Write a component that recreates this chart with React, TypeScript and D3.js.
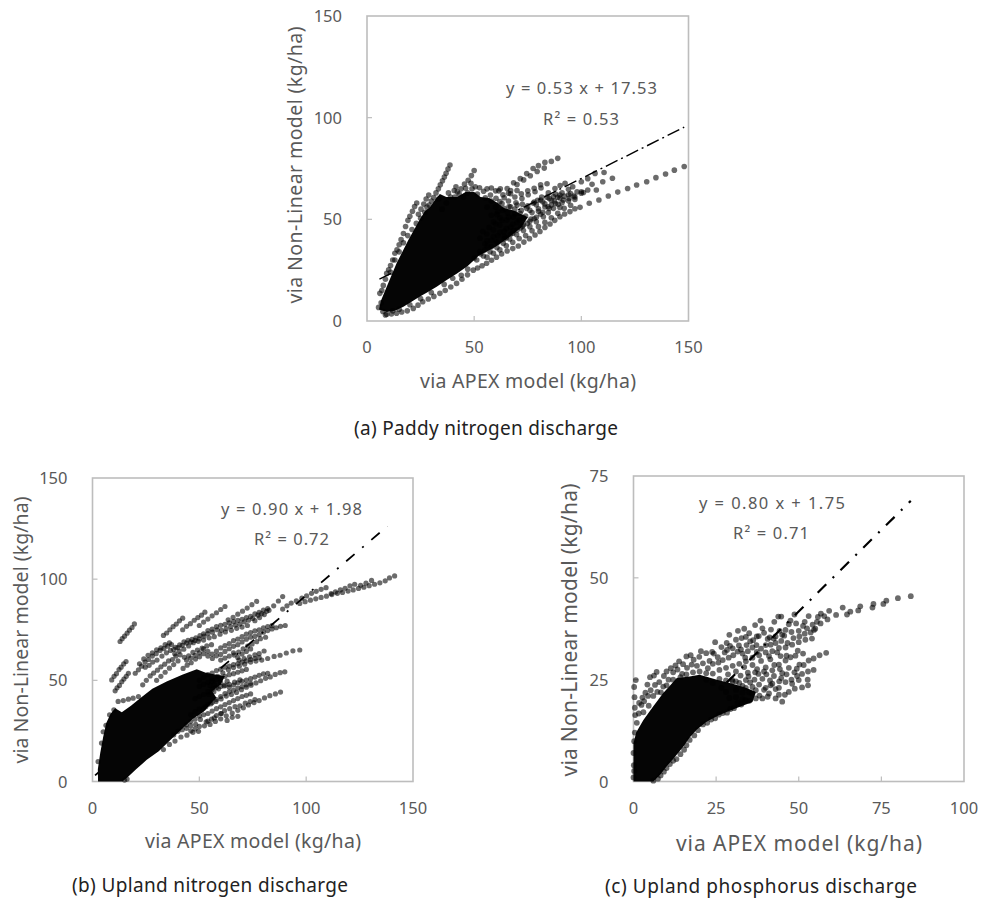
import React from "react";
import * as d3 from "d3";

type P = [number, number];

// ---------- Panel (a) paddy nitrogen: points ----------
const paddyCore: P[] = [[5.6, 5.6], [6.5, 10], [9.2, 16.9], [13.8, 28.4], [19.3, 39.8], [24.7, 50], [27, 54], [29.4, 56], [32, 60], [34, 62.5], [37, 61], [42, 61], [46, 63.5], [50, 63.5], [53, 61], [57, 60.5], [61, 58], [64, 55.5], [68, 54.5], [72, 52.5], [75, 51], [72, 46], [66, 41], [60, 36.5], [52, 32], [47, 27], [42, 23.4], [37, 20], [32.5, 16.9], [28, 14], [24.7, 12], [20, 9], [17, 7], [13, 5], [9.2, 4.4]];
const paddyPoints: P[] = [
  [148, 76], [143.4, 74.2], [139.3, 72.3], [134.8, 70.5], [130.5, 68.5], [125.8, 66.9], [121.6, 65.2], [117, 63.4], [112.6, 61.5], [108.2, 59.5], [103.7, 57.9], [99.4, 55.9], [97, 55.2], [94.7, 53.8], [92.2, 52.6], [90, 51.3], [87.6, 49.5], [85.4, 47.7], [83, 46], [80.7, 44], [78.4, 42.3], [75.8, 40.5], [73.2, 38.8], [70.6, 36.9], [68, 35.6], [65.4, 34.4], [62.8, 33], [60.4, 31.4], [58.1, 29.9], [55.8, 28.4], [53.7, 27.2], [51.6, 26.1], [49.6, 25], [46.9, 22.7], [44.3, 20.5], [41.8, 18.5], [39.1, 16.7], [36.5, 15], [34, 13.6], [31.2, 12.1], [28.6, 10.8], [26, 9.5], [23.8, 7.8], [21.6, 6.2], [18.8, 5], [16.2, 4.4], [13.8, 3.8], [11.4, 3.5], [9.2, 3.3],
  [114.5, 70.2], [110, 68.5], [105, 67.2], [100, 63.6], [97, 61], [94.3, 60.3], [91.6, 59.5], [89.2, 57.4], [87, 55.4], [84.6, 53.3], [82.3, 51.3], [79, 48.8], [76, 46.4], [73, 44.5], [69.8, 42.5], [66.6, 40.3], [63.6, 38.2], [60.6, 36.1], [57.4, 34], [54.3, 32], [51.2, 30],
  [110.6, 73], [106.4, 72.6], [103, 70], [100, 68.5], [107, 64.4], [103, 64.4], [100, 62.8], [96, 66], [94, 64.8], [90, 60.5], [86, 57], [83, 56.1], [80, 54], [76.5, 50.2], [72.5, 46.6], [68.4, 44.6], [64.2, 41.5], [60.3, 38.8], [56.1, 37], [52.6, 34.2],
  [92.4, 67.7], [90.1, 66.6], [87.7, 65.2], [84.6, 63], [81.5, 61], [79.6, 59.4], [77.6, 57.9], [74.5, 55.4], [71.4, 53], [68.3, 51.2], [65.2, 49.7], [62, 47.2], [59, 44.8], [55.9, 42.8], [52.7, 40.7],
  [96.5, 61.5], [94, 62.1], [91, 63], [88, 62.4], [85, 60.3], [82, 58.6], [79, 57.2], [76, 54.5], [73, 50.7], [70, 48.4], [67, 46.1], [64, 44], [61, 41.9], [58, 39.6], [55, 38], [90, 55.8], [87.4, 59], [84.5, 56.2], [81, 52.5], [78, 50.3], [74.8, 48], [71.7, 45.8], [68, 43.2], [65, 40.9],
  [89, 80], [86, 78.5], [83, 78], [80, 76.4], [77.5, 75], [74.5, 72.5], [71.5, 70], [68.4, 68], [65.4, 65.2], [61.5, 64], [82.7, 75.2], [79.4, 73.5], [76.2, 71.4], [73.1, 69.4], [70, 67.1], [67, 64.2], [84, 67.5], [81.2, 65.4], [78.4, 63.6], [75.2, 62.1], [72.3, 60.2], [69.5, 58.1], [66.3, 56.3], [63.3, 54.5], [60.6, 52.4], [72.5, 57.4], [69, 55], [65.6, 53.2], [62, 50.8], [59, 48.7],
  [62.2, 65], [60, 64], [58, 65.4], [56, 65], [54.4, 63.8], [52.5, 65.5], [66, 62.8], [63.4, 62.1], [60.2, 60.4], [57.6, 62], [55.2, 60.6],
  [50, 74], [48.7, 71.5], [47.2, 69.2], [45.5, 67.3], [43.9, 65], [42.1, 63.5], [40.7, 64.2], [38.7, 76.7], [37.8, 74.7], [36.9, 72.7], [36.1, 70.8], [35.2, 69], [34.2, 67], [33.3, 65], [32.2, 63], [31.1, 60.7], [28.8, 62], [27.6, 60], [26.5, 57.5], [25.2, 55], [24, 52.5], [23.2, 58], [22.2, 56.3], [21.2, 54], [20, 51.5], [19.1, 49.5], [18, 46.5], [17, 43], [15.9, 40], [15, 37.5], [14, 35], [13, 33.3], [12, 30], [11, 27.3], [10.1, 25.2], [9.2, 23.4], [8.6, 20.5], [7.6, 17.5], [6.9, 15], [6, 13.6], [5.4, 6.7], [7.4, 4.7], [8.6, 3], [6.6, 9],
  [55, 35], [58, 36.5], [61, 38.7], [64, 40.4], [67, 42.7], [70, 44.7], [73, 47.2], [76, 49], [79, 51], [82, 53.5], [85, 55.3], [88, 57.8], [91, 58.2], [94, 59.1], [97, 59.8],
  [56, 39.5], [59, 41.5], [62, 43.6], [65, 45.5], [68, 47.6], [71, 49.7], [74, 51.6], [77, 53.3], [80, 55.2], [83, 57.6], [86, 59.3], [89, 60.8], [92, 61.4], [95, 62.7], [98, 63.5], [101, 63.2],
  [54, 44], [57, 46], [60, 47.8], [63, 49.6], [66, 51], [69, 52.8], [72, 54.4], [75, 56.6], [78, 58.5], [81, 59.5], [84, 60.9], [87, 61.2], [90, 62],
  [50, 31], [53, 33], [56, 31.4], [59, 33.3], [62, 35], [65, 37], [68, 38.7], [71, 40.6], [74, 42], [77, 44.4], [80, 46.4], [83, 48.5], [86, 50.8], [89, 53], [92, 55.4], [95, 56.9],
  [60, 56], [63, 57.8], [66, 59], [69, 61], [72, 62.5], [75, 64], [78, 65.3], [81, 67], [62, 58.7], [56, 56], [58, 59], [64, 60.6], [67, 62.6], [70, 64.2], [58, 52], [61, 53.6], [64, 55.4], [67, 56.2], [70, 57],
  [35, 55], [37, 58], [39, 61], [41, 61], [43, 62.5], [45, 61], [47, 63], [49, 65], [50.5, 66], [29, 57], [30, 59], [27, 53.5], [28, 56], [25, 50.5], [23, 48], [21, 45], [19, 42], [17, 38.5], [15, 34], [13, 30], [11, 24], [47, 25.5], [44, 22.5], [40, 21], [36, 18], [30, 14], [25, 11], [20, 8], [15, 5.8], [12, 5], [33.5, 60], [38, 63], [41.5, 66], [46, 65.3], [48.5, 67.7], [51.5, 62.4]
];
const paddyFitX: P = [5.8, 148];
const paddyFitY: P = [20.6, 95.3];

// ---------- Panel (b) upland nitrogen ----------
const uplandNCore: P[] = [[2.6, 0], [2.5, 6], [3.6, 14], [5, 22], [6.4, 28.8], [8.4, 33.4], [10.6, 36.2], [13.7, 34.2], [18, 37.4], [22.3, 41.2], [28, 45.8], [34.7, 49.4], [42, 52.8], [48.8, 55.5], [53, 53.8], [58, 52.8], [62, 52.2], [60, 48], [56, 44.6], [58, 41.4], [55, 38], [52, 34.5], [47, 31], [44, 28], [37.9, 22], [31, 15], [25.4, 10.7], [20.4, 6], [16.8, 2.5], [14, 0]];
const uplandNPoints: P[] = [
  [12.9, 69.2], [13.9, 70.6], [15, 71.8], [16.2, 73.3], [17.3, 74.8], [18.5, 76.1], [19.6, 77.9],
  [9, 50.2], [10.1, 52], [11.2, 53.3], [12.4, 55.3], [13.4, 56.5], [14.6, 58.1], [15.7, 59.3],
  [10.6, 44.8], [11.5, 46.3], [12.6, 47.5], [13.7, 49.3], [14.7, 50.6], [15.8, 52], [16.8, 53.5],
  [33.2, 72.2], [34.7, 73.4], [36.2, 75], [37.7, 76.5], [39.2, 77.8], [40.7, 79.4], [42.2, 80.7],
  [42.2, 75], [44, 76.7], [45.8, 78], [47.6, 79.7], [49.3, 81], [51, 82.2], [52.6, 83.7],
  [50, 77.1], [52, 78.8], [54, 80.3], [56, 81.9], [58, 83.4], [60, 85], [62, 86.5],
  [63.5, 79.9], [65.8, 81.1], [68, 82.7], [70.2, 84.2], [72.4, 85.7], [74.6, 87.4], [76.8, 89],
  [76, 79.5], [78.2, 81], [80.4, 82.5], [82.6, 84.6], [84.8, 86.8], [87, 89.2], [89, 91.4],
  [20, 53.5], [21.5, 55.2], [23, 57], [24.6, 59], [26.2, 60.3], [28, 62], [29.8, 63.2], [31.6, 64.8], [33.4, 65.7], [35.2, 66.9], [37, 67.7], [38.9, 66.3], [40.8, 67.5], [42.8, 69], [44.7, 69.8], [46.6, 70.2], [48.4, 71], [50.3, 72.1], [52.2, 71.8], [54, 73.1], [56.2, 73.8], [58.4, 75], [60.4, 74.7], [62.6, 75.6], [64.7, 76.6], [66.9, 77.3], [69, 77.8], [71, 78.9], [73, 79.7], [75, 80.6], [77.4, 82.2], [79.2, 83], [81.5, 84.1],
  [24.7, 56.5], [26.5, 57.4], [28.2, 59], [30.2, 60], [32.5, 62], [34.6, 63.6], [36.5, 64.8], [38.5, 63.1], [40.5, 64.4], [42.7, 65.4], [45, 67], [47.2, 68.6], [49.5, 69.3], [52, 69.9], [54.6, 71], [57, 71.6], [59.7, 72.8], [62.2, 73.9], [65, 74.7], [67.5, 75.7], [70, 76.3], [72.5, 77.1],
  [23.5, 47.8], [25.2, 50], [27, 52.2], [28.6, 53.6], [30.4, 55], [32, 56.7], [33.8, 58], [35.6, 59.6], [37.4, 60.3], [39, 62], [41, 62.6], [43, 61.4], [45, 62.1], [47, 63.8], [49.1, 65], [51.3, 65.9], [53.5, 67], [55.7, 67.6], [42.4, 55.9], [44.3, 57.5], [46.2, 58.7], [48.2, 60.5], [50.1, 61.6], [52, 63.2], [54, 64.3],
  [56.1, 60.8], [58, 62.1], [60, 62.8], [62, 64.3], [64, 65.6], [66, 66.8], [68, 67.6], [70, 69], [72, 70.3], [74, 71.3], [76, 71.7], [78, 72.6], [80, 73.8], [82, 74.6], [84, 75.4], [86, 76], [88, 76.7], [90.2, 77.1], [66.3, 62.5], [68.4, 64], [70.5, 65.5], [72.6, 66.9], [74.7, 68], [76.8, 69.1], [78.6, 70.6], [81, 71.3],
  [97, 88], [99.5, 88.9], [102, 89.6], [104.5, 90.3], [107, 91], [109.5, 91.6], [112, 92.4], [114.6, 93], [117, 93.4], [119.6, 94.1], [122, 94.7], [124.5, 95.4], [127, 96], [129.5, 96.8], [132, 97.5], [134.5, 98.2], [137, 99.2], [139, 100.6], [141.4, 101.6],
  [89, 85.2], [91, 86.8], [93, 88.2], [95.4, 89.3], [98, 90.6], [100.2, 91.7], [102.5, 93], [104.7, 94], [107, 95], [109.3, 95.8], [111.7, 92.9], [113.7, 93.7], [116, 94.7], [118.2, 95.5], [120.5, 96.7], [122.7, 97.5], [125.5, 97], [128, 98], [130.6, 99.4],
  [97, 65], [93.8, 64.6], [90.7, 63.5], [87.8, 62.4], [85, 61.8], [82, 60.8], [79.2, 60], [76.5, 59.5], [74, 59], [71.2, 58], [68.7, 57], [66, 56.3], [63.6, 55.2], [61, 53.7], [58.6, 52], [56, 50.8], [80.3, 64.5], [78, 63.2], [76, 62.6], [73.5, 61.6], [71, 60.8], [68.6, 60],
  [90, 54.2], [87.8, 53.8], [85.5, 52.9], [83.2, 51.7], [81, 51], [78.7, 49.8], [76.5, 48.7], [74.2, 47.6], [72, 46.6], [69.7, 45.4], [67.4, 44], [65, 43], [62.6, 42.2], [60.2, 40.8], [57.8, 39.6], [55.4, 38.4], [53, 37], [69, 50.2], [66.5, 49.1], [64, 48], [61.6, 47.2], [59, 45.8], [56.8, 44.4], [54.5, 43],
  [88, 44.2], [85.6, 43.3], [83, 42.4], [80.5, 41.3], [78, 40], [75.6, 39], [73, 37.8], [70.6, 36.4], [68, 35.2], [65.4, 33.8], [62.6, 32.5], [60, 31], [57.5, 29.7], [55, 28.2], [52.4, 27.5], [49.6, 24.8], [47, 24.3], [44.2, 22.9], [41.4, 22], [38.6, 20], [36, 18.3], [33.2, 15.8],
  [68, 32.2], [65.4, 31.7], [63, 30.2], [60.3, 33.6], [58, 32.6], [55.7, 30.8], [53.2, 29.5], [50.5, 30.7], [48.3, 28.3], [46, 27.5], [76, 40.5], [73.8, 39.5], [71.5, 38.7], [69, 37.4], [66.7, 37], [64.2, 36], [61.8, 35],
  [12, 39.6], [14.4, 40], [16.8, 40.7], [19, 41.2], [21.5, 42], [10, 35.4], [8, 33], [6.3, 27.8], [5, 24.6], [4.2, 19], [2.6, 9.8], [15, 0.7], [16.2, 1.2],
  [50, 50], [52, 51.5], [54, 52.8], [56, 53.6], [58, 54.8], [60, 55.5], [62, 56.5], [64, 57], [66, 57.8], [68, 58.2], [70, 59], [72, 59.6], [74, 60.3], [76, 60.8], [78, 61.2],
  [50, 47], [52, 48], [54, 49], [56, 49.7], [58, 50.5], [60, 51.1], [62, 52], [64, 52.8], [66, 53.3], [68, 54], [70, 54.7], [72, 55.4], [55, 47.5], [57, 48], [60, 48.9], [63, 49.6],
  [48, 41], [50, 42], [52, 43], [54, 44.4], [56, 45.5], [58, 46.4], [60, 47], [62, 47.6], [64, 46.6], [66, 47.7], [68, 48.8], [70, 49.5], [72, 50.1], [74, 50.8], [76, 51.6], [78, 52.5], [80, 53.2], [82, 53.4],
  [46, 33], [48, 34.5], [50, 35.8], [52, 36.2], [54, 38], [56, 39], [58, 40.5], [60, 42], [62, 43.4], [64, 44.3], [66, 45.1], [68, 46.2], [70, 46.9], [72, 47.8], [74, 48.5],
  [44, 28], [46, 29.6], [48, 30.8], [50, 32.4], [52, 33], [54, 33.6], [56, 34.8], [58, 36], [60, 36.9], [62, 38], [64, 39], [66, 40], [68, 41], [70, 42], [72, 42.6], [74, 43.3],
  [38, 23], [40, 24.8], [42, 25.6], [44, 26.3], [46, 25], [48, 26], [50, 27.2], [54, 29.8], [57, 31.4], [60, 33.6],
  [22, 58.2], [24, 60.6], [26, 62.4], [28, 63.6], [30, 65.1], [32, 66], [34, 67.6], [36, 68.5], [38, 65.3], [40, 66.2], [42, 67.3], [44, 68.4], [46, 69], [48, 69.7], [50, 70.5], [52, 73], [54, 74.6], [56, 75.3], [58, 76.5], [60, 77.2], [62, 77.7], [64, 78.4], [66, 79], [68, 79.6], [70, 80.2], [72, 81], [74, 81.6], [76, 82.8], [78, 83.6], [80, 84.7], [82, 85.5],
  [30, 50], [32, 52], [34, 54], [36, 56], [38, 57.8], [40, 59.6], [44, 60], [46, 61], [48, 62.4], [50, 63.6], [52, 65.5], [54, 62], [56, 63], [58, 64.4], [60, 66], [62, 67.2], [64, 68.2], [66, 69.6], [68, 70.4], [70, 71.6], [72, 72.8], [74, 73.6], [76, 74.4], [78, 75], [80, 76], [82, 76.6], [84, 77], [60, 60], [62, 61], [64, 62], [66, 63.6], [68, 61.3], [70, 63], [72, 64.3], [74, 65.5]
];
const uplandNFitX: P = [1.2, 138];
const uplandNFitY: P = [3.05, 126.2];

// ---------- Panel (c) upland phosphorus ----------
const uplandPCore: P[] = [[0, 0], [0, 9.4], [0.8, 12], [3, 15.1], [6, 18.5], [9, 21.7], [11, 23.5], [13.1, 25.4], [17, 25.8], [20, 26.2], [25.2, 25], [30, 24], [34, 23], [37, 22], [36, 19.5], [32, 18.3], [28, 17], [25.2, 16], [22, 14.6], [19.1, 12.7], [17, 10.8], [15.1, 8.6], [12.5, 6], [10, 3.7], [8, 1.6], [6, 0]];
const uplandPPoints: P[] = [
  [83.9, 45.5], [80, 45], [76.5, 44.4], [75.6, 43.6], [72.6, 43.6], [72.3, 42.7], [68.6, 43], [68, 42], [65.6, 41.7], [64.6, 41], [63.3, 42.7], [61.3, 40.9], [59.2, 41.9], [58.7, 39.8], [57.7, 40.6], [56.7, 41.2], [55.5, 39.2], [54.2, 38.5], [53, 40.6], [52.5, 37.6], [51.3, 38.2], [50, 37], [48.7, 41], [47.8, 36.7], [47, 38.6], [46, 37.2], [45.6, 35.8], [44.2, 37], [43.8, 40.5], [43, 35.6], [41.6, 37.3], [42.6, 39.2], [41.2, 35.4], [39.5, 36.5], [38.4, 39.5], [37.9, 35.7], [36.8, 38.4], [36.2, 34.7], [35, 36.4], [34.2, 33.5], [33.5, 37.5], [32.7, 35.2], [31.9, 33.4], [31, 34.8], [30, 32.7], [29, 36], [28.2, 34], [27.6, 31.7], [26.6, 33], [25.5, 30.5], [24.7, 34.2], [23.8, 31.8], [23, 29.6], [22, 31.5], [20.4, 32], [19.9, 30.6], [18.2, 29.9], [17.3, 31], [16, 30.7], [15, 28.8], [13.8, 29.5], [12.7, 28.5], [11.3, 27.8], [10, 27], [9.2, 25.9], [7, 26.9], [6.2, 26], [5, 25.6], [4.2, 23.8], [3.6, 21.8], [2.7, 20.6], [1.7, 19.3], [0.7, 24.9], [0.2, 23.2], [0.3, 20.7], [0.4, 18.1], [0.5, 16.3], [1.6, 16.7], [2.4, 18.8], [3.2, 19.7], [4.4, 21], [5.2, 22.4], [6.5, 23.7], [7.8, 24.4], [9, 23.3], [10.6, 25], [12, 26.8], [13.3, 27.5], [14.7, 26.4], [16.2, 27.9], [17.6, 28.7], [19.2, 28.4], [21, 29], [22.5, 27.8], [24, 28.9], [25.7, 29.2], [27, 29.8], [28.8, 30.4], [30.2, 31], [31.5, 31.9], [33, 31.4], [34.6, 32], [36, 32.9], [37.2, 33.5], [38.6, 32.6], [40, 33.5], [41.5, 33.6], [43, 34], [44.7, 34.5], [46.6, 34], [48.4, 35.2], [50.2, 35.6], [51.8, 36.3], [53.6, 36.6], [55, 37.5], [56.6, 38.8], [47.5, 39.5], [44.7, 40.5], [39, 37.6], [34, 35.5], [31.6, 37], [29.2, 33.3],
  [58.3, 31.6], [56.3, 31], [54.5, 30.2], [53, 29.7], [51.3, 31.4], [50.2, 28.7], [49, 30.9], [47.5, 30.5], [46, 29.7], [44.5, 30.8], [44, 28.7], [42.6, 28.6], [41.4, 30], [40, 28], [38.6, 29.6], [37.4, 27.6], [36, 28.6], [34.6, 26.7], [33.5, 28.1], [32.4, 26], [31, 27], [29.8, 25], [28.6, 26.3],
  [54.5, 27.4], [52.8, 27], [51, 26.4], [49.5, 25.9], [47.8, 25], [46.3, 26.3], [45, 26.6], [44.1, 24.6], [42.5, 25.9], [41.3, 24.8], [40.2, 26.3], [39, 25.2], [37.8, 26.4], [36.6, 25], [35.3, 24.3], [34, 24.9], [33, 23.5],
  [52.8, 23.6], [51, 23.1], [48.8, 22.8], [47, 22], [45.8, 21.3], [44, 21.3], [43, 22.7], [41.5, 23.6], [40.6, 20.8], [39.5, 22.5], [38.1, 21.1], [37, 20.4], [36, 21.6], [35, 19.8], [33.8, 20], [32.6, 18.9], [31.5, 19.3], [30.4, 18], [29.3, 17.8], [28.3, 16.9], [27, 16.8], [25.8, 16.4], [24.7, 15.5], [23.5, 15.2], [22.3, 14.4], [21, 14], [19.5, 12.6], [18.4, 11.3], [17, 10.2], [16, 8.9], [15.3, 7.8], [14.2, 6.7], [13, 5.5], [12, 5.1], [11, 4.3], [10, 3.3], [9.2, 2.4], [8.2, 1.5], [7.4, 0.7],
  [0, 1], [0.1, 4], [0, 7], [0.2, 9.9], [0.4, 12], [1, 14.4], [0.2, 2.6], [6, 0.2],
  [3, 17], [4.6, 18.6], [6, 21], [7.2, 22], [8.3, 21.9], [10, 23.6], [12, 25], [14.2, 25.6], [16, 26.3], [18, 26.8], [20, 27], [22, 26.6], [24, 26.5], [26, 27.4], [28, 27.9], [30, 28.4], [32, 28.9], [34, 29.5], [36, 30.4], [38, 31], [40, 31.7], [42, 32], [44, 32.8], [46, 32.9], [48, 33.6], [50, 34.2], [52, 34.8], [54, 35.1], [26, 25.2], [28, 24.8], [30, 24.6], [32, 24.2], [34, 23], [36, 23.2], [38, 23.8], [40, 23], [42, 24], [44, 23], [46, 24.4], [48, 24], [50, 24.9], [31, 22.5], [33, 21.8], [35, 21.9], [37, 22.4], [39, 20.4], [41, 21.6], [43, 20.4], [45, 19.6], [29, 20.5], [31, 20.7], [33, 20.2], [28, 22], [26.6, 23], [24, 24.2], [22, 25], [24.3, 31.4], [28.3, 32.3], [32.5, 32.4], [35.3, 34.4], [37.3, 35.6], [40.6, 35], [42.4, 35.1], [45, 36], [49.2, 38.8], [51.8, 39.2], [54.6, 37.2], [55.8, 40.4], [33.8, 30.4], [37.3, 31.8], [41, 30.8], [43.5, 31.7], [46.3, 30.9], [49.7, 32.1], [31, 24.6], [34.8, 25.8], [36.8, 26.8], [39.5, 27], [42, 27.3], [44.3, 27.6], [47, 27.9], [49.4, 27.7], [51.5, 28.6], [52.7, 25], [48.7, 26.8], [44.7, 25.4]
];
const uplandPFitX: P = [0.6, 83.9];
const uplandPFitY: P = [2.2, 68.9];

type Panel = {
  x0: number; x1: number; y0: number; y1: number;
  xMax: number; yMax: number; xTicks: number[]; yTicks: number[];
  points: P[]; core: P[]; fitX: P; fitY: P;
  r: number; eq: string; r2: string; eqX: number; eqY: number; r2X: number; r2Y: number; eqW: number; r2W: number;
  caption: string; capX: number; capY: number; capW: number;
  xLabX: number; xLabY: number; xLabW: number; yLabX: number; yLabY: number; yLabW: number;
  labelSize: number; dash: string; fitW: number;
};

const panels: Panel[] = [
  { x0: 367, x1: 688.5, y0: 16, y1: 321, xMax: 150, yMax: 150, xTicks: [0, 50, 100, 150], yTicks: [0, 50, 100, 150], points: paddyPoints, core: paddyCore, fitX: paddyFitX, fitY: paddyFitY, r: 2.8, eq: "y = 0.53 x + 17.53", r2: "R² = 0.53", eqX: 506, eqY: 94, eqW: 151, r2X: 543, r2Y: 125, r2W: 76, caption: "(a) Paddy nitrogen discharge", capX: 354, capY: 435, capW: 264, xLabX: 420, xLabY: 388, xLabW: 216, yLabX: 302, yLabY: 165, yLabW: 277, labelSize: 19.5, dash: "13 4 2 4", fitW: 1.4 },
  { x0: 92.5, x1: 413, y0: 478, y1: 781.5, xMax: 150, yMax: 150, xTicks: [0, 50, 100, 150], yTicks: [0, 50, 100, 150], points: uplandNPoints, core: uplandNCore, fitX: uplandNFitX, fitY: uplandNFitY, r: 2.6, eq: "y = 0.90 x + 1.98", r2: "R² = 0.72", eqX: 221, eqY: 515, eqW: 141, r2X: 254, r2Y: 545, r2W: 75, caption: "(b) Upland nitrogen discharge", capX: 72, capY: 892, capW: 276, xLabX: 145, xLabY: 848, xLabW: 216, yLabX: 28, yLabY: 630, yLabW: 267, labelSize: 19.5, dash: "11 10 2 10", fitW: 1.8 },
  { x0: 633.5, x1: 964, y0: 476, y1: 781.5, xMax: 100, yMax: 75, xTicks: [0, 25, 50, 75, 100], yTicks: [0, 25, 50, 75], points: uplandPPoints, core: uplandPCore, fitX: uplandPFitX, fitY: uplandPFitY, r: 2.9, eq: "y = 0.80 x + 1.75", r2: "R² = 0.71", eqX: 699, eqY: 509, eqW: 146, r2X: 733, r2Y: 539, r2W: 76, caption: "(c) Upland phosphorus discharge", capX: 605, capY: 893, capW: 312, xLabX: 676, xLabY: 851, xLabW: 246, yLabX: 577, yLabY: 630, yLabW: 293, labelSize: 21, dash: "12 9 2 9", fitW: 2.2 },
];

const FONT = "'Noto Sans', 'Open Sans', sans-serif";
const GREY = "#595959";

function Chart({ p }: { p: Panel }) {
  const x = d3.scaleLinear().domain([0, p.xMax]).range([p.x0, p.x1]);
  const y = d3.scaleLinear().domain([0, p.yMax]).range([p.y1, p.y0]);
  const corePath = d3.line<P>().x(d => x(d[0])).y(d => y(d[1])).curve(d3.curveLinearClosed)(p.core) ?? "";
  return (
    <g fontFamily={FONT}>
      <rect x={p.x0} y={p.y0} width={p.x1 - p.x0} height={p.y1 - p.y0} fill="none" stroke="#bdbdbd" strokeWidth={1.6} />
      {p.xTicks.slice(1, -1).map(t => (
        <line key={t} x1={x(t)} x2={x(t)} y1={p.y1} y2={p.y1 - 5} stroke="#bdbdbd" strokeWidth={1.2} />
      ))}
      {p.yTicks.slice(1, -1).map(t => (
        <line key={t} x1={p.x0} x2={p.x0 + 5} y1={y(t)} y2={y(t)} stroke="#bdbdbd" strokeWidth={1.2} />
      ))}
      <line x1={x(p.fitX[0])} x2={x(p.fitX[1])} y1={y(p.fitY[0])} y2={y(p.fitY[1])} stroke="#000" strokeWidth={p.fitW} strokeDasharray={p.dash} />
      <path d={corePath} fill="#050505" />
      {p.points.map((d, i) => (
        <circle key={i} cx={x(d[0])} cy={y(d[1])} r={p.r} fill="#000" fillOpacity={0.58} />
      ))}
      {p.xTicks.map(t => (
        <text key={t} x={x(t)} y={p.y1 + 32} textAnchor="middle" fontSize={16.5} fill={GREY}>{t}</text>
      ))}
      {p.yTicks.map(t => (
        <text key={t} x={p.x0 - 25} y={y(t) + 6} textAnchor="end" fontSize={16.5} fill={GREY}>{t}</text>
      ))}
      <text x={p.xLabX} y={p.xLabY} fontSize={p.labelSize} fill={GREY} textLength={p.xLabW}>via APEX model (kg/ha)</text>
      <text transform={`translate(${p.yLabX},${p.yLabY + p.yLabW / 2}) rotate(-90)`} fontSize={p.labelSize} fill={GREY} textLength={p.yLabW}>via Non-Linear model (kg/ha)</text>
      <text x={p.eqX} y={p.eqY} fontSize={16.5} fill={GREY} textLength={p.eqW}>{p.eq}</text>
      <text x={p.r2X} y={p.r2Y} fontSize={16.5} fill={GREY} textLength={p.r2W}>{p.r2}</text>
      <text x={p.capX} y={p.capY} fontSize={19} fill="#222" textLength={p.capW}>{p.caption}</text>
    </g>
  );
}

export default function App() {
  return (
    <svg width={985} height={904} style={{ position: "absolute", left: 0, top: 0, background: "#fff" }}>
      {panels.map((p, i) => <Chart key={i} p={p} />)}
    </svg>
  );
}
